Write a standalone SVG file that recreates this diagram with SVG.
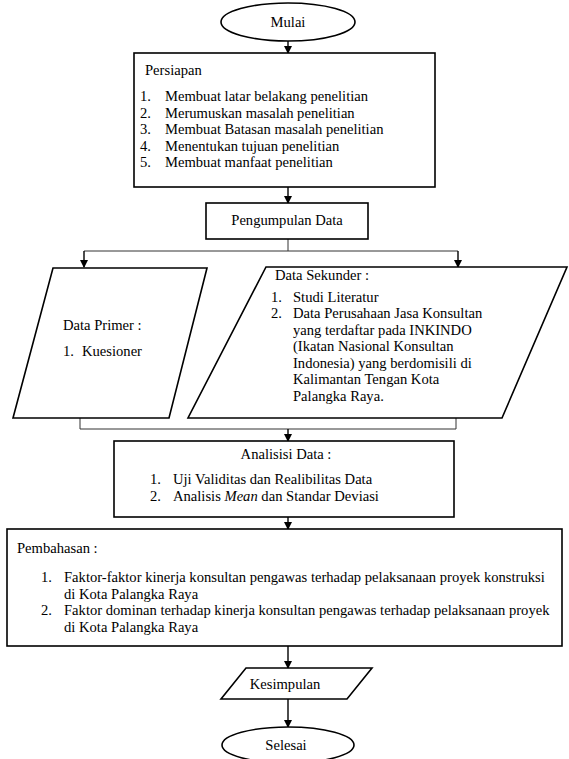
<svg xmlns="http://www.w3.org/2000/svg" width="569" height="759" viewBox="0 0 569 759">
<defs>
<marker id="ah" markerWidth="8" markerHeight="8" refX="7" refY="4" orient="auto" markerUnits="userSpaceOnUse">
<path d="M0,0 L8,4 L0,8 Z" fill="#000"/>
</marker>
<style>
.shape{fill:#fff;stroke:#000;stroke-width:1.6}
.t{font-family:"Liberation Serif","Times New Roman",serif;font-size:14.6px;fill:#000}
.c{text-anchor:middle}
.ln{fill:none;stroke:#000;stroke-width:1.4}
.br{fill:none;stroke:#333;stroke-width:1}
</style>
</defs>
<rect width="569" height="759" fill="#fff"/>
<g id="connectors">
<line class="ln" x1="288" y1="41" x2="288" y2="53" marker-end="url(#ah)"/>
<line class="ln" x1="288" y1="187" x2="288" y2="203" marker-end="url(#ah)"/>
<polyline class="br" points="288,239 288,251"/>
<polyline class="br" points="84,251 458,251"/>
<line class="ln" x1="84" y1="251" x2="84" y2="267" marker-end="url(#ah)"/>
<line class="ln" x1="458" y1="251" x2="458" y2="267" marker-end="url(#ah)"/>
<polyline class="br" points="80,418 80,429 456,429 456,418"/>
<line class="ln" x1="288" y1="429" x2="288" y2="441" marker-end="url(#ah)"/>
<line class="ln" x1="288" y1="517" x2="288" y2="529" marker-end="url(#ah)"/>
<line class="ln" x1="288" y1="646" x2="288" y2="668" marker-end="url(#ah)"/>
<line class="ln" x1="288" y1="699" x2="288" y2="727" marker-end="url(#ah)"/>
</g>
<g id="mulai">
<ellipse class="shape" cx="288" cy="22" rx="67" ry="19"/>
<text class="t c" x="288" y="27">Mulai</text>
</g>
<g id="persiapan">
<rect class="shape" x="134" y="53" width="301" height="134"/>
<text class="t" x="145" y="75">Persiapan</text>
<text class="t" x="140" y="101">1.</text><text class="t" x="165" y="101">Membuat latar belakang penelitian</text>
<text class="t" x="140" y="117.5">2.</text><text class="t" x="165" y="117.5">Merumuskan masalah penelitian</text>
<text class="t" x="140" y="134">3.</text><text class="t" x="165" y="134">Membuat Batasan masalah penelitian</text>
<text class="t" x="140" y="150.5">4.</text><text class="t" x="165" y="150.5">Menentukan tujuan penelitian</text>
<text class="t" x="140" y="167">5.</text><text class="t" x="165" y="167">Membuat manfaat penelitian</text>
</g>
<g id="pengumpulan">
<rect class="shape" x="206" y="203" width="162" height="36"/>
<text class="t c" x="287" y="225">Pengumpulan Data</text>
</g>
<g id="primer">
<polygon class="shape" points="53,268 207,268 169,418 13,418"/>
<text class="t" x="63" y="330">Data Primer :</text>
<text class="t" x="63" y="356">1.</text><text class="t" x="82" y="356">Kuesioner</text>
</g>
<g id="sekunder">
<polygon class="shape" points="266,267 567,267 502,418 188,418"/>
<text class="t" x="275" y="280">Data Sekunder :</text>
<text class="t" x="271" y="302">1.</text><text class="t" x="293" y="302">Studi Literatur</text>
<text class="t" x="271" y="318">2.</text><text class="t" x="293" y="318">Data Perusahaan Jasa Konsultan</text>
<text class="t" x="293" y="334.5">yang terdaftar pada INKINDO</text>
<text class="t" x="293" y="351">(Ikatan Nasional Konsultan</text>
<text class="t" x="293" y="367.5">Indonesia) yang berdomisili di</text>
<text class="t" x="293" y="384">Kalimantan Tengan Kota</text>
<text class="t" x="293" y="400.5">Palangka Raya.</text>
</g>
<g id="analisis">
<rect class="shape" x="114" y="441" width="340" height="76"/>
<text class="t c" x="286" y="459">Analisisi Data :</text>
<text class="t" x="150" y="484">1.</text><text class="t" x="173" y="484">Uji Validitas dan Realibilitas Data</text>
<text class="t" x="150" y="501">2.</text><text class="t" x="173" y="501">Analisis <tspan font-style="italic">Mean</tspan> dan Standar Deviasi</text>
</g>
<g id="pembahasan">
<rect class="shape" x="7" y="529" width="555" height="117"/>
<text class="t" x="17" y="553">Pembahasan :</text>
<text class="t" x="41" y="582">1.</text><text class="t" x="64" y="582">Faktor-faktor kinerja konsultan pengawas terhadap pelaksanaan proyek konstruksi</text>
<text class="t" x="64" y="599">di Kota Palangka Raya</text>
<text class="t" x="41" y="615">2.</text><text class="t" x="64" y="615">Faktor dominan terhadap kinerja konsultan pengawas terhadap pelaksanaan proyek</text>
<text class="t" x="64" y="632">di Kota Palangka Raya</text>
</g>
<g id="kesimpulan">
<polygon class="shape" points="246,668 372,668 347,699 221,699"/>
<text class="t c" x="285" y="689">Kesimpulan</text>
</g>
<g id="selesai">
<ellipse class="shape" cx="288" cy="745" rx="66" ry="18"/>
<text class="t c" x="286" y="750">Selesai</text>
</g>
</svg>
